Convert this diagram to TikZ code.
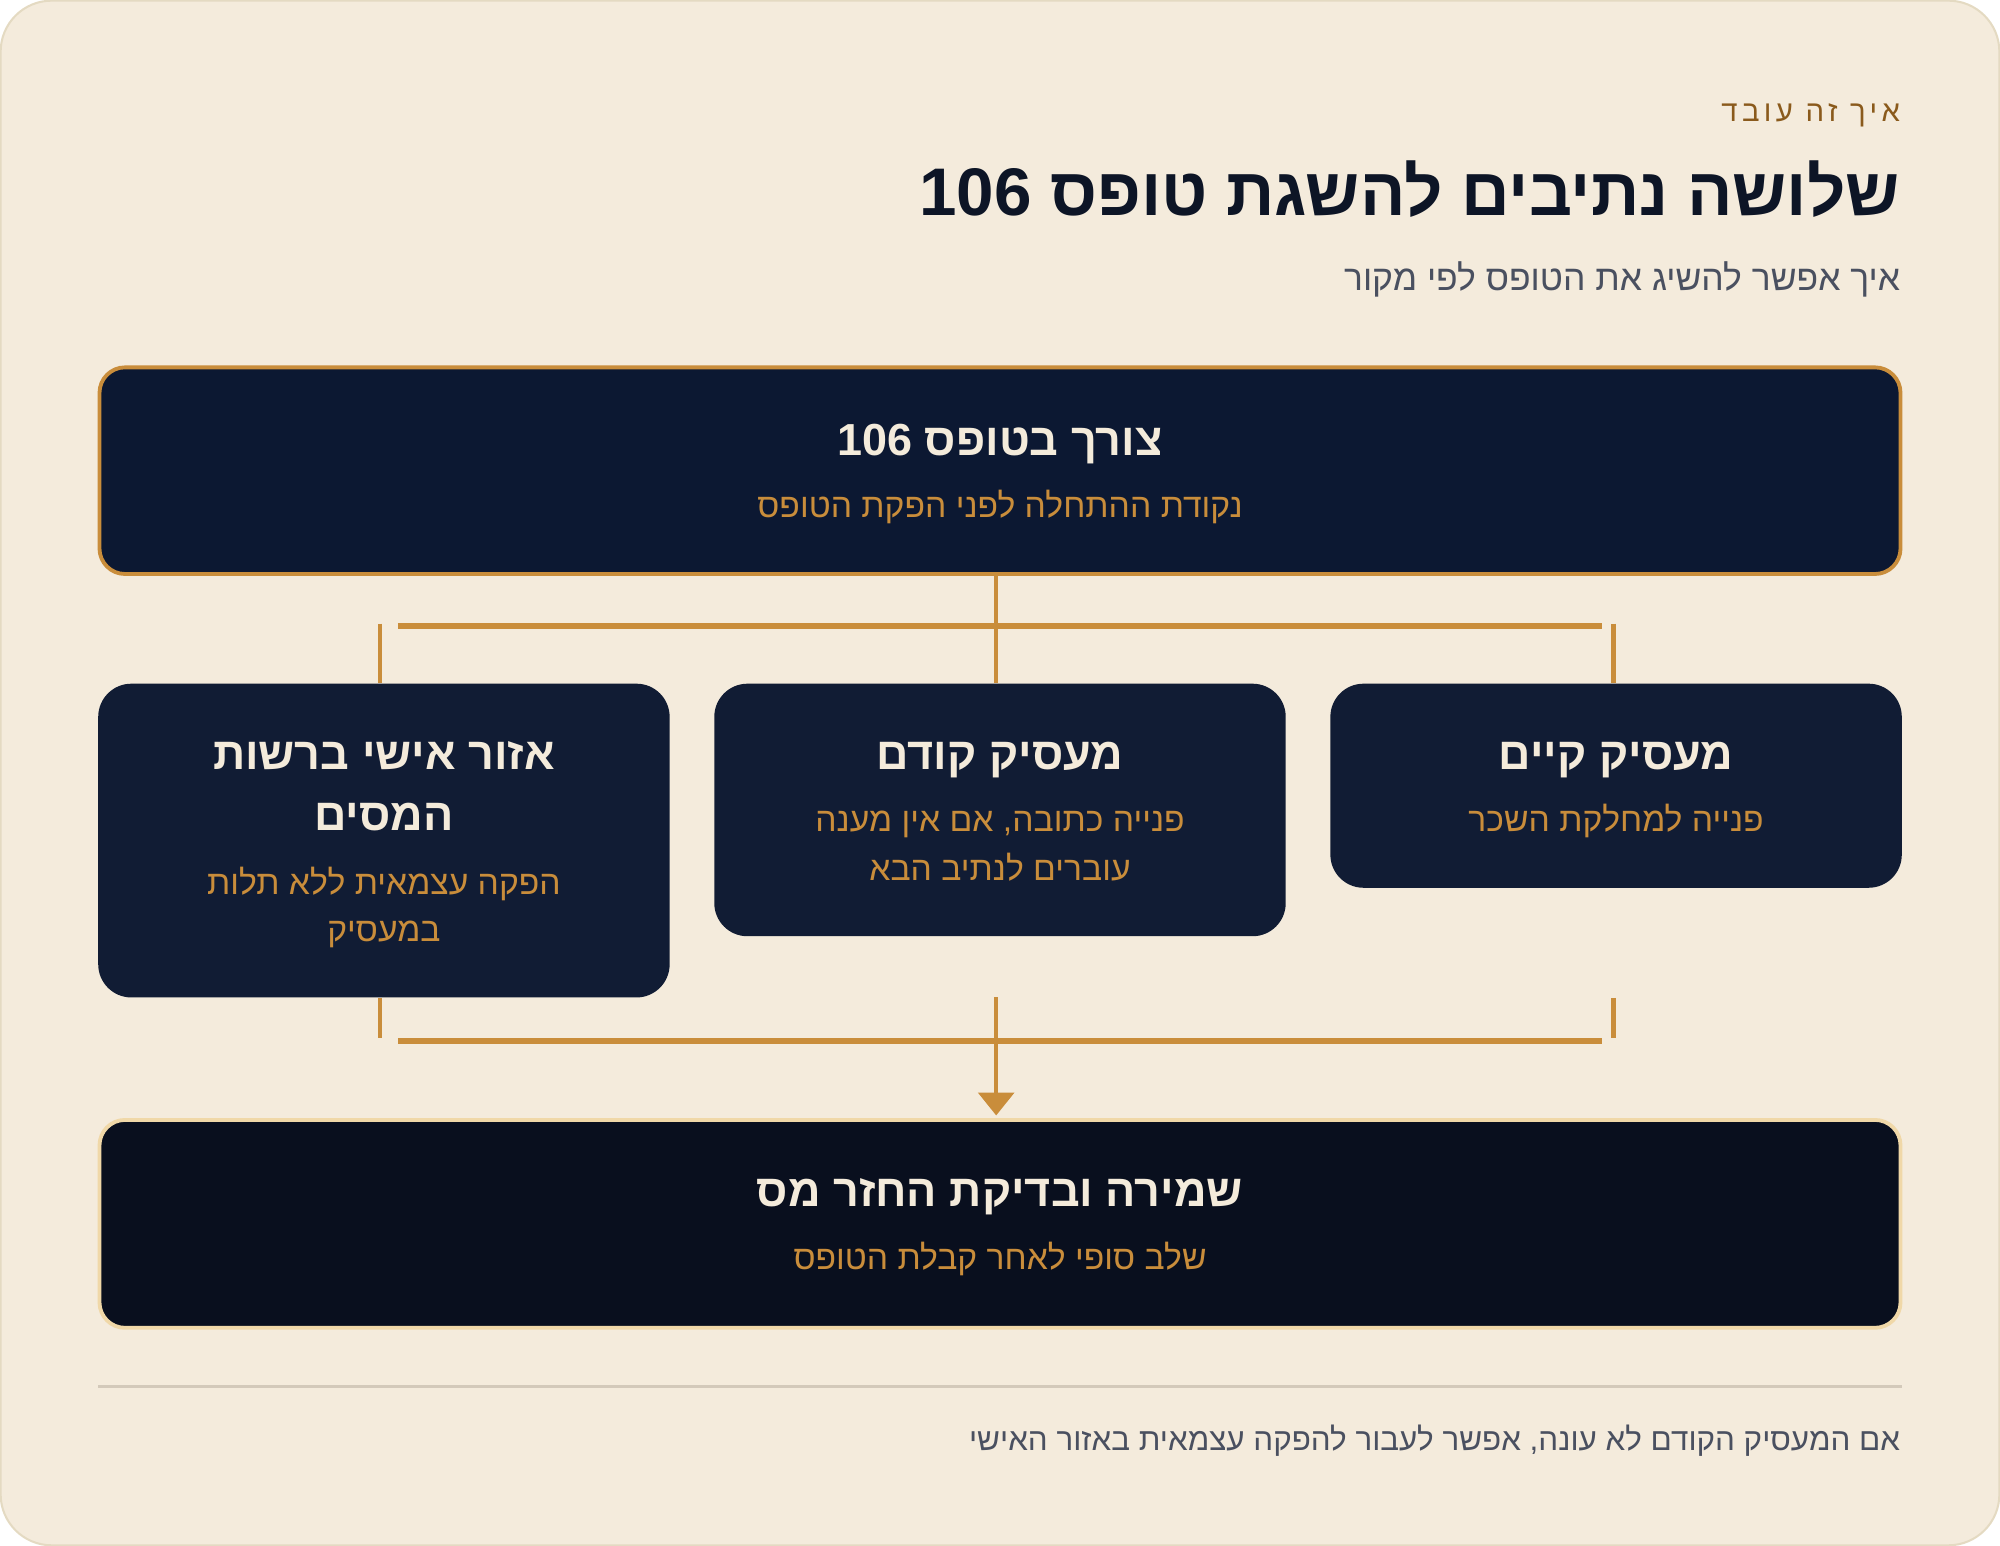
\documentclass[tikz,border=0pt]{standalone}
\usepackage{fontspec}
\setmainfont{Liberation Sans}[Script=Hebrew]
\TeXXeTstate=1
\usetikzlibrary{arrows.meta}
\definecolor{bg}{HTML}{F4EBDC}
\definecolor{edge}{HTML}{E4DAC2}
\definecolor{brownc}{HTML}{8A5A1C}
\definecolor{ink}{HTML}{0D1526}
\definecolor{grayc}{HTML}{4A5060}
\definecolor{topfill}{HTML}{0C1832}
\definecolor{midfill}{HTML}{111C34}
\definecolor{botfill}{HTML}{090F1E}
\definecolor{gold}{HTML}{C98D3B}
\definecolor{lightgold}{HTML}{F0D8A8}
\definecolor{cream}{HTML}{F4EBDB}
\definecolor{sep}{HTML}{D3C9BA}
\newcommand\RL[1]{\beginR #1\endR}
\newcommand\fs[1]{\fontsize{#1}{#1}\selectfont}
\tikzset{
  boxbase/.style={rectangle, inner sep=0pt},
  topbox/.style={boxbase, fill=topfill, draw=gold, line width=1.5pt, rounded corners=10pt, minimum width=706pt, minimum height=81pt},
  midbox/.style={boxbase, fill=midfill, rounded corners=13pt, minimum width=224pt},
  botbox/.style={boxbase, fill=botfill, draw=lightgold, line width=1.5pt, rounded corners=10pt, minimum width=706pt, minimum height=81.5pt},
  boxtitle/.style={anchor=base, inner sep=0pt, text=cream, font=\fs{17.6}\bfseries},
  boxsub/.style={anchor=base, inner sep=0pt, text=gold, font=\fs{13.2}},
  thinline/.style={draw=gold, line width=1.7pt},
  thickline/.style={draw=gold, line width=2.5pt},
}
\begin{document}
\begin{tikzpicture}[x=0.5pt,y=-0.5pt]
\path[use as bounding box] (0,0) rectangle (1568,1212);
\draw[fill=bg, draw=edge, line width=0.8pt, rounded corners=20pt] (0.5,0.5) rectangle (1567.5,1211.5);

% header
\node[anchor=base east, inner sep=0pt, text=brownc, font=\fs{11.5}\addfontfeatures{LetterSpace=15}] (eyebrow) at (1490,95) {\RL{איך זה עובד}};
\node[anchor=base east, inner sep=0pt, text=ink, font=\fs{26.4}\bfseries] (title) at (1490,169) {\RL{שלושה נתיבים להשגת טופס \beginL106\endL}};
\node[anchor=base east, inner sep=0pt, text=grayc, font=\fs{13.9}] (subtitle) at (1490,228) {\RL{איך אפשר להשיג את הטופס לפי מקור}};

% boxes
\node[topbox] (top) at (784,369) {};
\node[midbox, minimum height=123pt] (left) at (301,659) {};
\node[midbox, minimum height=99pt] (mid) at (784,635) {};
\node[midbox, minimum height=80pt] (right) at (1267,616) {};
\node[botbox] (bot) at (784,959.5) {};

% box texts
\node[boxtitle] (toptitle) at (784,357) {\RL{צורך בטופס \beginL106\endL}};
\node[boxsub] (topsub) at (784,406) {\RL{נקודת ההתחלה לפני הפקת הטופס}};

\node[boxtitle] (righttitle) at (1267,603) {\RL{מעסיק קיים}};
\node[boxsub] (rightsub) at (1267,652) {\RL{פנייה למחלקת השכר}};

\node[boxtitle] (midtitle) at (784,603) {\RL{מעסיק קודם}};
\node[boxsub] (midsuba) at (784,652) {\RL{פנייה כתובה\kern0pt, אם אין מענה}};
\node[boxsub] (midsubb) at (784,690) {\RL{עוברים לנתיב הבא}};

\node[boxtitle] (lefttitlea) at (301,603) {\RL{אזור אישי ברשות}};
\node[boxtitle] (lefttitleb) at (301,651) {\RL{המסים}};
\node[boxsub] (leftsuba) at (301,701) {\RL{הפקה עצמאית ללא תלות}};
\node[boxsub] (leftsubb) at (301,738) {\RL{במעסיק}};

\node[boxtitle] (bottitle) at (784,946) {\RL{שמירה ובדיקת החזר מס}};
\node[boxsub] (botsub) at (784,995) {\RL{שלב סופי לאחר קבלת הטופס}};

% connectors (upper)
\coordinate (busL) at (312,491);
\coordinate (busR) at (1256,491);
\coordinate (ltop) at (298,489);
\coordinate (rtop) at (1265,489);
\coordinate (ctop) at (781,450);
\draw[thinline] (ctop |- top.south) -- (ctop |- mid.north);
\draw[thickline] (busL) -- (busR);
\draw[thinline] (ltop) -- (ltop |- left.north);
\draw[thinline] (rtop) -- (rtop |- right.north);

% connectors (lower)
\coordinate (lbot) at (298,814);
\coordinate (rbot) at (1265,814);
\coordinate (cbot) at (781,782);
\coordinate (busL2) at (312,816);
\coordinate (busR2) at (1256,816);
\draw[thinline] (lbot |- left.south) -- (lbot);
\draw[thinline] (rbot |- left.south) -- (rbot);
\draw[thickline] (busL2) -- (busR2);
\draw[thinline, -{Triangle[width=14pt,length=9pt]}, fill=gold, shorten >=1pt] (cbot) -- (cbot |- bot.north);

% footer
\draw[draw=sep, line width=0.8pt] (77,1087) -- (1491,1087);
\node[anchor=base east, inner sep=0pt, text=grayc, font=\fs{12.3}] (footer) at (1490,1137) {\RL{אם המעסיק הקודם לא עונה\kern0pt, אפשר לעבור להפקה עצמאית באזור האישי}};
\end{tikzpicture}
\end{document}
